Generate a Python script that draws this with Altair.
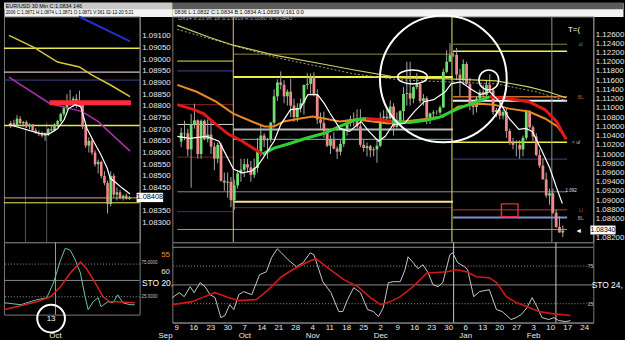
import altair as alt
import pandas as pd

# ================= RIGHT CHART : daily candles (Sep 9 2019 .. Feb 17 2020) =================
R_OPEN = [1.1027,1.1046,1.1045,1.1010,1.1064, 1.1073,1.1000,1.1072,1.1032,1.1042, 1.1016,1.0990,1.1020,1.0942,1.0938,
          1.0940,1.0900,1.0932,1.0958,1.0966, 1.0978,1.0971,1.0955,1.0970,1.1005, 1.1040,1.1030,1.1032,1.1068,1.1125,
          1.1155,1.1150,1.1125,1.1135,1.1105, 1.1080,1.1100,1.1110,1.1150,1.1152, 1.1167,1.1128,1.1075,1.1067,1.1050,
          1.1018,1.1032,1.1012,1.1005,1.1022, 1.1052,1.1070,1.1076,1.1073,1.1060, 1.1020,1.1013,1.1017,1.1008,1.1010,
          1.1018,1.1078,1.1081,1.1077,1.1103, 1.1059,1.1065,1.1093,1.1130,1.1132, 1.1120,1.1145,1.1152,1.1115,1.1121,
          1.1079,1.1088,1.1090,1.1090,1.1101, 1.1178,1.1200,1.1214,1.1215,1.1172, 1.1160,1.1195,1.1152,1.1105,1.1102,
          1.1120,1.1134,1.1128,1.1150,1.1138, 1.1091,1.1095,1.1083,1.1091,1.1050, 1.1025,1.1020,1.1020,1.1010,1.1035,
          1.1092,1.1058,1.1038,1.0998,1.0975, 1.0945,1.0910,1.0915,1.0873,1.0842, 1.0830]
R_HIGH = [1.1057,1.1072,1.1055,1.1087,1.1109, 1.1075,1.1075,1.1075,1.1075,1.1075, 1.1025,1.1025,1.1025,1.0960,1.0960,
          1.0950,1.0945,1.0965,1.0990,1.0990, 1.0990,1.0985,1.0990,1.1035,1.1063, 1.1045,1.1035,1.1070,1.1140,1.1162,
          1.1179,1.1160,1.1140,1.1163,1.1120, 1.1110,1.1120,1.1145,1.1175,1.1175, 1.1177,1.1140,1.1090,1.1092,1.1055,
          1.1040,1.1047,1.1017,1.1030,1.1055, 1.1075,1.1083,1.1090,1.1097,1.1097, 1.1030,1.1025,1.1020,1.1015,1.1030,
          1.1090,1.1095,1.1096,1.1116,1.1110, 1.1090,1.1095,1.1145,1.1200,1.1200, 1.1147,1.1175,1.1155,1.1130,1.1125,
          1.1090,1.1095,1.1095,1.1105,1.1185, 1.1225,1.1240,1.1220,1.1230,1.1185, 1.1205,1.1200,1.1165,1.1115,1.1125,
          1.1140,1.1150,1.1160,1.1173,1.1143, 1.1100,1.1110,1.1095,1.1100,1.1055, 1.1035,1.1030,1.1030,1.1040,1.1096,
          1.1095,1.1062,1.1045,1.1010,1.0990, 1.0960,1.0925,1.0925,1.0880,1.0865, 1.0845]
R_LOW = [1.1015,1.1030,1.0995,1.0927,1.1055, 1.0990,1.0990,1.1030,1.1025,1.1000, 1.0965,1.0980,1.0940,1.0920,1.0905,
         1.0885,1.0879,1.0925,1.0940,1.0950, 1.0960,1.0940,1.0948,1.0960,1.0995, 1.1015,1.0990,1.1025,1.1060,1.1115,
         1.1140,1.1110,1.1105,1.1080,1.1070, 1.1070,1.1090,1.1085,1.1140,1.1130, 1.1125,1.1065,1.1055,1.1035,1.1015,
         1.1000,1.1010,1.0989,1.0997,1.1015, 1.1040,1.1060,1.1060,1.1055,1.1015, 1.1005,1.0995,1.0993,1.0995,1.0981,
         1.1015,1.1065,1.1066,1.1075,1.1040, 1.1055,1.1060,1.1070,1.1105,1.1105, 1.1110,1.1140,1.1110,1.1105,1.1065,
         1.1065,1.1080,1.1085,1.1085,1.1100, 1.1175,1.1200,1.1210,1.1160,1.1125, 1.1150,1.1150,1.1095,1.1085,1.1090,
         1.1110,1.1115,1.1125,1.1135,1.1085, 1.1080,1.1075,1.1075,1.1035,1.1020, 1.1010,1.0995,1.0990,1.0995,1.1030,
         1.1055,1.1028,1.0995,1.0970,1.0945, 1.0905,1.0890,1.0870,1.0840,1.0830, 1.0820]
R_CLOSE = [1.1046,1.1045,1.1010,1.1064,1.1073, 1.1000,1.1072,1.1032,1.1042,1.1016, 1.0990,1.1020,1.0942,1.0938,1.0940,
           1.0900,1.0932,1.0958,1.0966,1.0978, 1.0971,1.0955,1.0970,1.1005,1.1040, 1.1030,1.1032,1.1068,1.1125,1.1155,
           1.1150,1.1125,1.1135,1.1105,1.1080, 1.1100,1.1110,1.1150,1.1152,1.1167, 1.1128,1.1075,1.1067,1.1050,1.1018,
           1.1032,1.1012,1.1005,1.1022,1.1052, 1.1070,1.1076,1.1073,1.1060,1.1020, 1.1013,1.1017,1.1008,1.1010,1.1018,
           1.1078,1.1081,1.1077,1.1103,1.1059, 1.1065,1.1093,1.1130,1.1132,1.1120, 1.1145,1.1152,1.1115,1.1121,1.1079,
           1.1088,1.1090,1.1090,1.1101,1.1178, 1.1200,1.1214,1.1215,1.1172,1.1160, 1.1195,1.1152,1.1105,1.1102,1.1120,
           1.1134,1.1128,1.1150,1.1138,1.1091, 1.1095,1.1083,1.1091,1.1050,1.1025, 1.1020,1.1020,1.1010,1.1035,1.1092,
           1.1058,1.1038,1.0998,1.0975,1.0945, 1.0910,1.0915,1.0873,1.0842,1.0830, 1.0834]

# price labels (1.08400 is hidden behind the last-price box in the reference)
R_PRICE_TICKS = [1.082,1.086,1.088,1.090,1.092,1.094,1.096,1.098,1.100,1.102,1.104,
                 1.106,1.108,1.110,1.112,1.114,1.116,1.118,1.120,1.122,1.124,1.126]
R_TICK_POS = [0,5,10,15,20,25,30,35,40,45,50,55,60,65,70,75,80,85,90,95,100,105,110,115,120]
R_TICK_DAYS = ["9","16","23","30","7","14","21","28","4","11","18","25","2","9","16","23","30",
               "6","13","20","27","3","10","17","24"]
R_TICK_MONTHS = ["","","","","Oct","","","","Nov","","","","Dec","","","","","Jan","","","","Feb","","",""]

# moving averages (index, price)
R_MA_LONG_X = [-1.17,8.45,15.7,28.0,42.6,52.2,65.9,80.5,95.0,104.7,110.5,116.0]
R_MA_LONG_Y = [1.12787,1.12529,1.12358,1.12143,1.1195,1.11821,1.11649,1.11628,1.11585,1.11456,1.11349,1.1122]
R_MA_DOT_X = [-1.17,28.0,52.2,65.9,95.0,106.9,116.0]
R_MA_DOT_Y = [1.12701,1.121,1.11735,1.11606,1.1152,1.11349,1.11156]
R_MA_ORANGE_X = [-1.17,4.66,10.5,15.7,21.3,25.1,28.0,30.9,35.9,39.7,43.1,47.8,52.8,57.7,62.4,67.3,72.3,
                 79.0,83.4,90.1,94.2,98.8,104.7,109.6,113.4,116.0]
R_MA_ORANGE_Y = [1.11499,1.11349,1.11134,1.10877,1.10705,1.10598,1.10598,1.10705,1.1077,1.10813,1.1077,
                 1.10705,1.10748,1.10705,1.10662,1.10705,1.10748,1.10813,1.11027,1.11091,1.1107,1.10984,
                 1.1092,1.1077,1.10598,1.1034]
R_MA_RG_X = [-1.17,3.79,6.7,10.5,14.3,18.4,22.2,24.5,
             24.5,28.0,33.0,37.6,43.1,47.8,52.8,55.7,
             55.7,59.5,63.6,
             63.6,68.8,73.2,77.6,83.4,89.2,93.0,
             93.0,98.8,104.7,109.6,113.1,116.0]
R_MA_RG_Y = [1.1107,1.10963,1.10877,1.10641,1.10427,1.10277,1.10105,1.09998,
             1.09998,1.10127,1.10234,1.10341,1.10449,1.10598,1.10749,1.1077,
             1.1077,1.1075,1.10705,
             1.10705,1.10684,1.10727,1.1079,1.10984,1.11134,1.11242,
             1.11242,1.11199,1.11134,1.10963,1.10705,1.10319]
R_MA_RG_SEG = [0]*8 + [1]*8 + [2]*3 + [3]*7 + [4]*6
R_WHITE_X = [-1.17,2.62,7.58,11.37,13.41,15.74,18.37,21.28,23.03,25.66,27.99,30.03,32.94,35.86,38.19,41.11,
             43.15,44.9,47.81,50.73,54.23,56.56,59.48,61.52,63.85,67.35,70.26,73.18,76.09,79.59,81.34,84.26,
             87.17,90.09,93.0,95.92,98.83,101.75,103.79,105.83,108.75,111.08,113.12,114.87]
R_WHITE_Y = [1.10383,1.1034,1.10383,1.10277,1.09998,1.09676,1.0959,1.09633,1.0974,1.10019,1.10277,1.10642,
             1.10963,1.10984,1.11285,1.11285,1.11092,1.10877,1.10555,1.10491,1.10705,1.10491,1.10277,1.10383,
             1.10641,1.10663,1.1092,1.11134,1.11177,1.11349,1.1152,1.11563,1.11413,1.11285,1.11349,1.11134,
             1.1077,1.10533,1.10555,1.10491,1.10062,1.09697,1.09268,1.08925]

# horizontal levels (price, from index, to index)
R_LEVEL_PRICE = [1.12014,1.118,1.1107,1.10641,1.09933,1.09182,1.08752,1.08366,
                 1.12164,1.11671,1.10533,1.10319,1.08967,1.08838,
                 1.12379,1.12229,1.11156,1.11242,1.10255,1.0989,1.08795,1.08623]
R_LEVEL_FROM = [-1.17,-1.17,-1.17,-1.17,-1.17,-1.17,-1.17,-1.17,
                15.7,15.7,15.7,15.7,15.7,15.7,
                81.9,81.9,81.9,81.9,81.9,81.9,81.9,81.9]
R_LEVEL_TO = [15.7,15.7,15.7,15.7,15.7,116.3,15.7,116.3,
              81.9,81.9,81.9,81.9,81.9,81.9,
              116.3,116.3,116.3,116.3,116.3,116.3,116.3,116.3]
R_VLINE_X = [15.7, 81.6, 111.7]
R_STO_VLINE_X = [81.6, 111.7]

R_CIRCLE = (79.0, 1.11628)
R_SMALL_CIRCLE = (92.7, 1.11606)
R_ELLIPSE = (69.7, 1.11671)
R_BOX = (96.5, 101.5, 1.08641, 1.0892)
R_LAST = 1.08340

R_STO_K_X = [-1.17,0.87,2.33,4.08,5.25,7.0,8.45,9.9,11.4,13.1,14.3,15.7,16.9,18.4,19.8,22.2,24.5,26.5,28.0,
             29.7,30.9,32.9,35.3,37.3,39.4,40.5,43.1,45.5,47.8,49.0,50.4,52.2,54.2,56.3,58.0,59.5,60.9,62.4,
             63.8,65.9,67.3,68.2,69.7,71.1,72.6,74.1,75.5,77.0,78.4,80.5,81.3,82.8,84.8,85.7,87.5,89.2,92.1,
             94.2,95.9,98.5,100.0,101.5,103.2,104.7,106.1,107.6,109.6,111.1,112.5,114.6,116.0]
R_STO_K_Y = [33.1,39.7,34.4,47.7,39.7,53.0,47.7,37.1,33.1,6.6,9.3,23.8,17.2,37.1,41.1,37.1,63.6,67.5,86.1,
             98.0,92.7,83.4,74.2,79.5,92.7,90.1,54.3,39.7,14.6,14.6,30.5,46.4,39.7,17.2,14.6,7.9,19.9,53.0,
             54.3,54.3,70.2,87.4,79.5,71.5,76.8,66.2,50.3,47.7,53.0,90.1,92.7,79.5,74.2,70.2,34.4,41.1,43.7,
             17.2,14.6,4.0,6.6,10.6,19.9,33.1,21.2,6.6,4.0,6.6,2.6,1.3,2.6]
R_STO_D_X = [-1.17,4.66,7.58,11.4,15.5,18.4,23.6,27.1,30.9,34.7,38.8,41.1,44.6,49.3,53.4,57.1,60.1,63.0,
             65.9,69.7,73.8,75.5,79.6,82.5,85.4,88.3,92.1,94.2,97.1,100.0,103.8,106.7,110.5,116.0]
R_STO_D_Y = [23.8,27.8,33.1,39.7,33.1,29.1,30.5,43.7,60.9,71.5,80.8,84.8,72.8,57.0,47.7,33.1,23.8,27.8,
             34.4,47.7,66.2,66.2,67.5,70.2,67.5,60.9,59.6,53.0,34.4,26.5,19.9,14.6,11.9,9.3]
STO_DOTTED = [75, 25]
STO_SOLID = [50]
R_STO_SOLID = [100, 50]

# ================= LEFT CHART : 30-minute candles =================
L_OPEN = [1.08720,1.08725,1.08718,1.08745,1.08725,1.08730,1.08712,1.08720,1.08695,1.08685,1.08680,1.08672,
          1.08680,1.08700,1.08695,1.08720,1.08735,1.08765,1.08790,1.08820,1.08810,1.08830,1.08800,1.08815,
          1.08710,1.08630,1.08650,1.08600,1.08550,1.08560,1.08500,1.08470,1.08380,1.08500,1.08420,1.08430,
          1.08405,1.08415,1.08402]
L_HIGH = [1.08735,1.08740,1.08760,1.08755,1.08735,1.08738,1.08725,1.08722,1.08705,1.08695,1.08690,1.08685,
          1.08705,1.08712,1.08725,1.08740,1.08770,1.08800,1.08850,1.08868,1.08840,1.08850,1.08865,1.08820,
          1.08715,1.08665,1.08660,1.08610,1.08570,1.08565,1.08520,1.08480,1.08520,1.08510,1.08450,1.08440,
          1.08420,1.08425,1.08415]
L_LOW = [1.08705,1.08712,1.08712,1.08720,1.08710,1.08705,1.08700,1.08690,1.08680,1.08670,1.08665,1.08650,
         1.08670,1.08690,1.08690,1.08710,1.08730,1.08755,1.08780,1.08800,1.08795,1.08790,1.08795,1.08700,
         1.08620,1.08600,1.08590,1.08540,1.08510,1.08490,1.08460,1.08339,1.08370,1.08410,1.08395,1.08400,
         1.08395,1.08398,1.08398]
L_CLOSE = [1.08725,1.08718,1.08745,1.08725,1.08730,1.08712,1.08720,1.08695,1.08685,1.08680,1.08672,1.08680,
           1.08700,1.08695,1.08720,1.08735,1.08765,1.08790,1.08820,1.08810,1.08830,1.08800,1.08815,1.08710,
           1.08630,1.08650,1.08600,1.08550,1.08560,1.08500,1.08470,1.08380,1.08500,1.08420,1.08430,1.08405,
           1.08415,1.08402,1.08408]
# price labels (1.08400 is hidden behind the last-price box in the reference)
L_PRICE_TICKS = [1.0830,1.0835,1.0845,1.0850,1.0855,1.0860,1.0865,1.0870,1.0875,1.0880,1.0885,
                 1.0890,1.0895,1.0900,1.0905,1.0910]
L_MA_BLUE_X = [21.8, 38.2]
L_MA_BLUE_Y = [1.09182, 1.09076]
L_MA_YELLOW_X = [-0.6,7.4,15.0,22.0,25.9,31.8,38.2]
L_MA_YELLOW_Y = [1.09101,1.0905,1.08987,1.08966,1.08932,1.0889,1.08839]
L_MA_MAGENTA_X = [-0.6,12.6,19.1,22.9,27.9,38.2]
L_MA_MAGENTA_Y = [1.08923,1.08809,1.08788,1.08775,1.08733,1.08606]
L_MA_WHITE_X = [-0.6,9.1,12.1,15.0,17.1,18.5,20.6,22.4,24.4,26.5,28.8,30.9,31.8,33.8,35.6,38.2]
L_MA_WHITE_Y = [1.0872,1.08682,1.08678,1.08703,1.08741,1.08788,1.08805,1.08796,1.08703,1.08648,1.08593,
                1.08533,1.08491,1.0847,1.08449,1.08423]
L_LEVEL_PRICE = [1.09046, 1.08944, 1.0891, 1.08716, 1.08406, 1.08385]
L_RED_BAR = (12.4, 38.5, 1.08813)
L_VLINE_X = [4.7, 11.5]
L_VLINE_TOP = 1.0873
L_LAST = 1.08408
L_STO_K_X = [-0.6,4.4,9.1,12.1,14.1,16.2,17.6,19.1,20.6,22.1,23.5,24.4,25.9,27.4,28.2,30.3,31.8,33.2,34.7,36.8,38.2]
L_STO_K_Y = [15.9,12.9,20.5,23.5,46.2,81.1,99.2,96.2,81.1,61.4,25.0,5.3,17.4,23.5,9.8,17.4,15.9,28.0,15.9,12.9,12.9]
L_STO_D_X = [-0.6,9.1,13.2,16.2,19.1,22.1,23.8,26.5,28.8,30.9,32.6,38.2]
L_STO_D_Y = [5.3,17.4,25.0,40.2,61.4,78.0,68.9,46.2,25.0,17.4,17.4,15.9]
L_STO_VLINE_X = [14.7]

# ================= styles =================
FONT = "Liberation Sans"
NARROW = "Liberation Sans Narrow, Liberation Sans, Arial, sans-serif"
GREEN = "#6de06d"
RED = "#f08a8a"
WICK = "#a8a8a8"
R_LEVEL_COLORS = ["#e8e850","#3a4a90","#8a2020","#d8d8d8","#8a2020","#8c8c8c","#2a3a80","#9a9a9a",
                  "#8c8c40","#f0f040","#b8b8b8","#60d0d0","#f8e090","#8a2020",
                  "#8c8c40","#f0f040","#f0f0f0","#c87030","#f0f040","#3a4a90","#8a2020","#8090d0"]
R_LEVEL_WIDTHS = [1,1,1,1,1,1,1,1, 1,2,2,1,2,1, 1,1.5,2,1.5,1.5,1,1.5,2]
R_VLINE_COLORS = ["#e8c060", "#e8e860", "#909090"]
R_RG_COLORS = ["#e01818", "#30d030", "#e01818", "#30d030", "#e01818"]
L_LEVEL_COLORS = ["#e8e850", "#d8c0c0", "#404890", "#e8e850", "#d8b080", "#f0f060"]
L_LEVEL_WIDTHS = [1.5, 1.5, 1, 1.5, 1, 1]

RW, LW = 425, 137
PH = 228
RSH, LSH = 81, 73
HH = 14

RX = alt.Scale(domain=[-1.17, 122.7], nice=False, zero=False)
RY = alt.Scale(domain=[1.08087, 1.12980], nice=False, zero=False)
RSY = alt.Scale(domain=[0, 106.6], nice=False, zero=False)
LX = alt.Scale(domain=[-0.6, 39.7], nice=False, zero=False)
LY = alt.Scale(domain=[1.08216, 1.09182], nice=False, zero=False)
LSY = alt.Scale(domain=[-2.3, 108.3], nice=False, zero=False)

R_YAXIS = alt.Axis(orient="right", values=R_PRICE_TICKS, format=".5f", title=None, grid=False,
                   labelColor="#e8e8e8", labelFontSize=8, labelFont=NARROW, tickSize=0,
                   domainColor="#8a8a8a", labelPadding=2, labelOverlap=False, labelFlush=False)
L_YAXIS = alt.Axis(orient="right", values=L_PRICE_TICKS, format=".5f", title=None, grid=False,
                   labelColor="#e8e8e8", labelFontSize=8, labelFont=NARROW, tickSize=0,
                   domainColor="#8a8a8a", labelPadding=2, labelOverlap=False, labelFlush=False)
_arr = "[" + ",".join("['%s','%s']" % (d, m) for d, m in zip(R_TICK_DAYS, R_TICK_MONTHS)) + "]"
R_XAXIS = alt.Axis(values=R_TICK_POS, labelExpr=_arr + "[round(datum.value/5)]", title=None, grid=False,
                   labelColor="#e8e8e8", labelFontSize=8, labelFont=FONT, tickSize=0, labelPadding=1,
                   labelLineHeight=8, domainColor="#8a8a8a", labelOverlap=False, labelFlush=False)


def rx(f):
    return alt.X(f, type="quantitative", scale=RX, axis=None)


def ry(f):
    return alt.Y(f, type="quantitative", scale=RY, axis=R_YAXIS)


def rsx(f):
    return alt.X(f, type="quantitative", scale=RX, axis=R_XAXIS)


def rsy(f):
    return alt.Y(f, type="quantitative", scale=RSY, axis=None)


def lx(f):
    return alt.X(f, type="quantitative", scale=LX, axis=None)


def ly(f):
    return alt.Y(f, type="quantitative", scale=LY, axis=L_YAXIS)


def lsy(f):
    return alt.Y(f, type="quantitative", scale=LSY, axis=None)


def candles(o, h, l, c, X, Y, width):
    df = pd.DataFrame({"i": list(range(len(o))), "o": o, "h": h, "l": l, "c": c})
    df["col"] = [GREEN if cc >= oo else RED for oo, cc in zip(df.o, df.c)]
    wick = alt.Chart(df).mark_rule(color=WICK, strokeWidth=1).encode(x=X("i"), y=Y("l"), y2="h")
    body = alt.Chart(df).mark_bar(size=width).encode(x=X("i"), y=Y("o"), y2="c",
                                                     color=alt.Color("col:N", scale=None))
    return [wick, body]


def line(xs, ys, X, Y, color, width=1.0, dash=None):
    df = pd.DataFrame({"x": xs, "y": ys})
    kw = dict(color=color, strokeWidth=width)
    if dash:
        kw["strokeDash"] = dash
    return alt.Chart(df).mark_line(**kw).encode(x=X("x"), y=Y("y"))


def texts(rows, X, Y, align="center", font=FONT):
    df = pd.DataFrame(rows, columns=["x", "y", "t", "c", "fs"])
    return alt.Chart(df).mark_text(align=align, baseline="middle", font=font).encode(
        x=X("x"), y=Y("y"), text="t:N", color=alt.Color("c:N", scale=None),
        size=alt.Size("fs:Q", scale=None))


# ---------------- right price panel ----------------
lev = pd.DataFrame({"p": R_LEVEL_PRICE, "a": R_LEVEL_FROM, "b": R_LEVEL_TO,
                    "c": R_LEVEL_COLORS, "w": R_LEVEL_WIDTHS})
r_levels = alt.Chart(lev).mark_rule().encode(x=rx("a"), x2="b", y=ry("p"),
                                              color=alt.Color("c:N", scale=None),
                                              strokeWidth=alt.StrokeWidth("w:Q", scale=None))
r_vl = alt.Chart(pd.DataFrame({"x": R_VLINE_X, "c": R_VLINE_COLORS})).mark_rule(strokeWidth=1).encode(
    x=rx("x"), color=alt.Color("c:N", scale=None))
rg = pd.DataFrame({"x": R_MA_RG_X, "y": R_MA_RG_Y, "s": R_MA_RG_SEG})
rg["c"] = [R_RG_COLORS[s] for s in rg.s]
r_rg = alt.Chart(rg).mark_line(strokeWidth=3).encode(x=rx("x"), y=ry("y"), detail="s:N",
                                                     color=alt.Color("c:N", scale=None))
r_circle = alt.Chart(pd.DataFrame({"x": [R_CIRCLE[0]], "y": [R_CIRCLE[1]]})).mark_point(
    shape="circle", filled=False, color="white", strokeWidth=2, size=16384, opacity=1).encode(
    x=rx("x"), y=ry("y"))
r_small = alt.Chart(pd.DataFrame({"x": [R_SMALL_CIRCLE[0]], "y": [R_SMALL_CIRCLE[1]]})).mark_point(
    shape="circle", filled=False, color="white", strokeWidth=1.5, size=400, opacity=1).encode(
    x=rx("x"), y=ry("y"))
r_ell = alt.Chart(pd.DataFrame({"x": [R_ELLIPSE[0]], "y": [R_ELLIPSE[1]]})).mark_point(
    shape="M -1 0 A 1 0.47 0 1 1 1 0 A 1 0.47 0 1 1 -1 0 Z", filled=False, color="white",
    strokeWidth=1.5, size=900, opacity=1).encode(x=rx("x"), y=ry("y"))
r_box = alt.Chart(pd.DataFrame({"a": [R_BOX[0]], "b": [R_BOX[1]], "y": [R_BOX[2]], "y2": [R_BOX[3]]})).mark_rect(
    fillOpacity=0, stroke="#e0303a", strokeWidth=1.5).encode(x=rx("a"), x2="b", y=ry("y"), y2="y2")
r_lastbox = alt.Chart(pd.DataFrame({"a": [123.3], "b": [130.9], "y": [R_LAST - 0.00082],
                                    "y2": [R_LAST + 0.00110]})).mark_rect(color="white").encode(
    x=rx("a"), x2="b", y=ry("y"), y2="y2")
r_txt = texts([
    (118.4, 1.12679, "T=(", "#ffffff", 8),
    (120.4, 1.12379, "ul", "#70a070", 5),
    (120.4, 1.11242, "BL", "#a06050", 5),
    (119.0, 1.10255, "< ul", "#c0c0c0", 5),
    (117.5, 1.09203, "1.092", "#e0e0e0", 4.5),
    (120.4, 1.08795, "LI", "#d04040", 5),
    (120.4, 1.08623, "BL", "#a0a0d0", 5),
    (119.8, R_LAST, "\u25c4", "#ffffff", 7),
    (127.1, R_LAST + 0.00016, "1.08340", "#000000", 7),
], rx, ry, font=NARROW)
r_info = texts([(-0.9, 1.1294, "DX14 V:23.9K 18 S:1.0919 R:0.0080 N:-0.0843", "#a0a0a0", 5.5)],
               rx, ry, align="left")

r_price = alt.layer(
    r_levels, r_vl,
    *candles(R_OPEN, R_HIGH, R_LOW, R_CLOSE, rx, ry, 2.8),
    line(R_MA_DOT_X, R_MA_DOT_Y, rx, ry, "#9a9a9a", 1, [2, 2]),
    line(R_MA_LONG_X, R_MA_LONG_Y, rx, ry, "#d0d060", 1.2),
    line(R_MA_ORANGE_X, R_MA_ORANGE_Y, rx, ry, "#e88a20", 2),
    r_rg,
    line(R_WHITE_X, R_WHITE_Y, rx, ry, "#ffffff", 1.2),
    r_box, r_circle, r_small, r_ell, r_lastbox, r_txt, r_info,
).properties(width=RW, height=PH)

# ---------------- right stochastic ----------------
rs_dot = alt.Chart(pd.DataFrame({"v": STO_DOTTED})).mark_rule(color="#9a9a9a", strokeDash=[1, 2]).encode(
    y=rsy("v"))
rs_sol = alt.Chart(pd.DataFrame({"v": R_STO_SOLID})).mark_rule(color="#8a8a8a").encode(y=rsy("v"))
rs_vl = alt.Chart(pd.DataFrame({"x": R_STO_VLINE_X})).mark_rule(color="#c8c8c8").encode(x=rsx("x"))
rs_txt = texts([
    (121.9, 75, "75", "#c0c0c0", 5),
    (121.9, 25, "25", "#c0c0c0", 5),
    (126.8, 50, "STO 24,", "#ffffff", 8.5),
], rsx, rsy, font=NARROW)
r_sto = alt.layer(
    rs_dot, rs_sol, rs_vl,
    line(R_STO_K_X, R_STO_K_Y, rsx, rsy, "#c8c8c8", 1),
    line(R_STO_D_X, R_STO_D_Y, rsx, rsy, "#d01818", 1.6),
    rs_txt,
).properties(width=RW, height=RSH)

# ---------------- left price panel ----------------
llev = pd.DataFrame({"p": L_LEVEL_PRICE, "c": L_LEVEL_COLORS, "w": L_LEVEL_WIDTHS})
l_levels = alt.Chart(llev).mark_rule().encode(y=ly("p"), color=alt.Color("c:N", scale=None),
                                              strokeWidth=alt.StrokeWidth("w:Q", scale=None))
l_red = alt.Chart(pd.DataFrame({"a": [L_RED_BAR[0]], "b": [L_RED_BAR[1]], "p": [L_RED_BAR[2]]})).mark_rule(
    color="#ff2a3a", strokeWidth=5).encode(x=lx("a"), x2="b", y=ly("p"))
l_vl = alt.Chart(pd.DataFrame({"x": L_VLINE_X, "t": [L_VLINE_TOP] * len(L_VLINE_X),
                               "b": [LY.domain[0]] * len(L_VLINE_X)})).mark_rule(color="#555555").encode(
    x=lx("x"), y=ly("b"), y2="t")
l_lastbox = alt.Chart(pd.DataFrame({"a": [40.3], "b": [48.8], "y": [L_LAST - 0.0002],
                                    "y2": [L_LAST + 0.0002]})).mark_rect(color="white").encode(
    x=lx("a"), x2="b", y=ly("y"), y2="y2")
l_txt = texts([(44.55, L_LAST, "1.08408", "#000000", 7.5)], lx, ly, font=NARROW)
l_price = alt.layer(
    l_vl, l_levels,
    *candles(L_OPEN, L_HIGH, L_LOW, L_CLOSE, lx, ly, 2.6),
    line(L_MA_YELLOW_X, L_MA_YELLOW_Y, lx, ly, "#d8c840", 1.5),
    line(L_MA_MAGENTA_X, L_MA_MAGENTA_Y, lx, ly, "#b030b0", 1.5),
    line(L_MA_BLUE_X, L_MA_BLUE_Y, lx, ly, "#2030c8", 2),
    l_red,
    line(L_MA_WHITE_X, L_MA_WHITE_Y, lx, ly, "#ffffff", 1.2),
    l_lastbox, l_txt,
).properties(width=LW, height=PH)

# ---------------- left stochastic ----------------
ls_dot = alt.Chart(pd.DataFrame({"v": STO_DOTTED})).mark_rule(color="#9a9a9a", strokeDash=[1, 2]).encode(
    y=lsy("v"))
ls_sol = alt.Chart(pd.DataFrame({"v": STO_SOLID})).mark_rule(color="#8a8a8a").encode(y=lsy("v"))
ls_vl = alt.Chart(pd.DataFrame({"x": L_STO_VLINE_X})).mark_rule(color="#a0a0a0").encode(x=lx("x"))
ls_circle = alt.Chart(pd.DataFrame({"x": [13.4], "y": [-8.3]})).mark_point(
    shape="circle", filled=False, color="white", strokeWidth=2, size=784, opacity=1).encode(
    x=lx("x"), y=lsy("y"))
ls_txt = texts([
    (47.4, 88.6, "55", "#ff8030", 8),
    (47.4, 62.9, "60", "#e0e0e0", 8),
    (42.6, 76.5, "75.0000", "#c0c0c0", 4.5),
    (42.6, 25.0, "25.0000", "#c0c0c0", 4.5),
    (45.0, 46.2, "STO 20,", "#ffffff", 8.5),
    (13.4, -8.3, "13", "#ffffff", 8),
    (14.7, -35.0, "Oct", "#e8e8e8", 8),
    (47.4, -35.0, "Sep", "#e8e8e8", 8),
], lx, lsy, font=NARROW)
l_sto = alt.layer(
    ls_dot, ls_sol, ls_vl,
    line(L_STO_K_X, L_STO_K_Y, lx, lsy, "#6cc8a8", 1),
    line(L_STO_D_X, L_STO_D_Y, lx, lsy, "#d82020", 1.5),
    ls_circle, ls_txt,
).properties(width=LW, height=LSH)

# ---------------- headers ----------------
HX = alt.Scale(domain=[0, 1])
HY = alt.Scale(domain=[0, 1])


def header(rows, w, fill, band_color):
    band = alt.Chart(pd.DataFrame({"a": [0], "b": [1], "y": [0.52], "y2": [1]})).mark_rect(
        color=band_color).encode(x=alt.X("a:Q", scale=HX, axis=None), x2="b",
                                 y=alt.Y("y:Q", scale=HY, axis=None), y2="y2")
    df = pd.DataFrame(rows, columns=["x", "y", "t", "fs"])
    tx = alt.Chart(df).mark_text(align="left", baseline="middle", color="black", font=FONT).encode(
        x=alt.X("x:Q", scale=HX, axis=None), y=alt.Y("y:Q", scale=HY, axis=None), text="t:N",
        size=alt.Size("fs:Q", scale=None))
    return alt.layer(band, tx).properties(width=w, height=HH,
                                          view=alt.ViewBackground(fill=fill, stroke="transparent"))


l_head = header([(0.01, 0.76, "EUR/USD 30 Min  C:1.0834  146", 5.5),
                 (0.01, 0.26, "2006 C:1.0871 H:1.0874 L:1.0871 O:1.0871 V:361 02-12-20 5:21", 4.5)],
                170, "#f2f2f2", "#c8c8c8")
r_head = header([(0.005, 0.30, "0836 L:1.0832 C:1.0834 B:1.0834 A:1.0839 V:161 0:0", 5.5)],
                455, "#f2f2f2", "#5a5a5a")

chart = alt.concat(l_head, r_head, l_price, r_price, l_sto, r_sto,
                   columns=2, spacing=0, bounds="flush", padding=0).configure(
    background="black", font=FONT).configure_view(stroke="#7a7a7a", fill="black")

chart.save("out.html", embed_options={"renderer": "svg", "actions": False})
